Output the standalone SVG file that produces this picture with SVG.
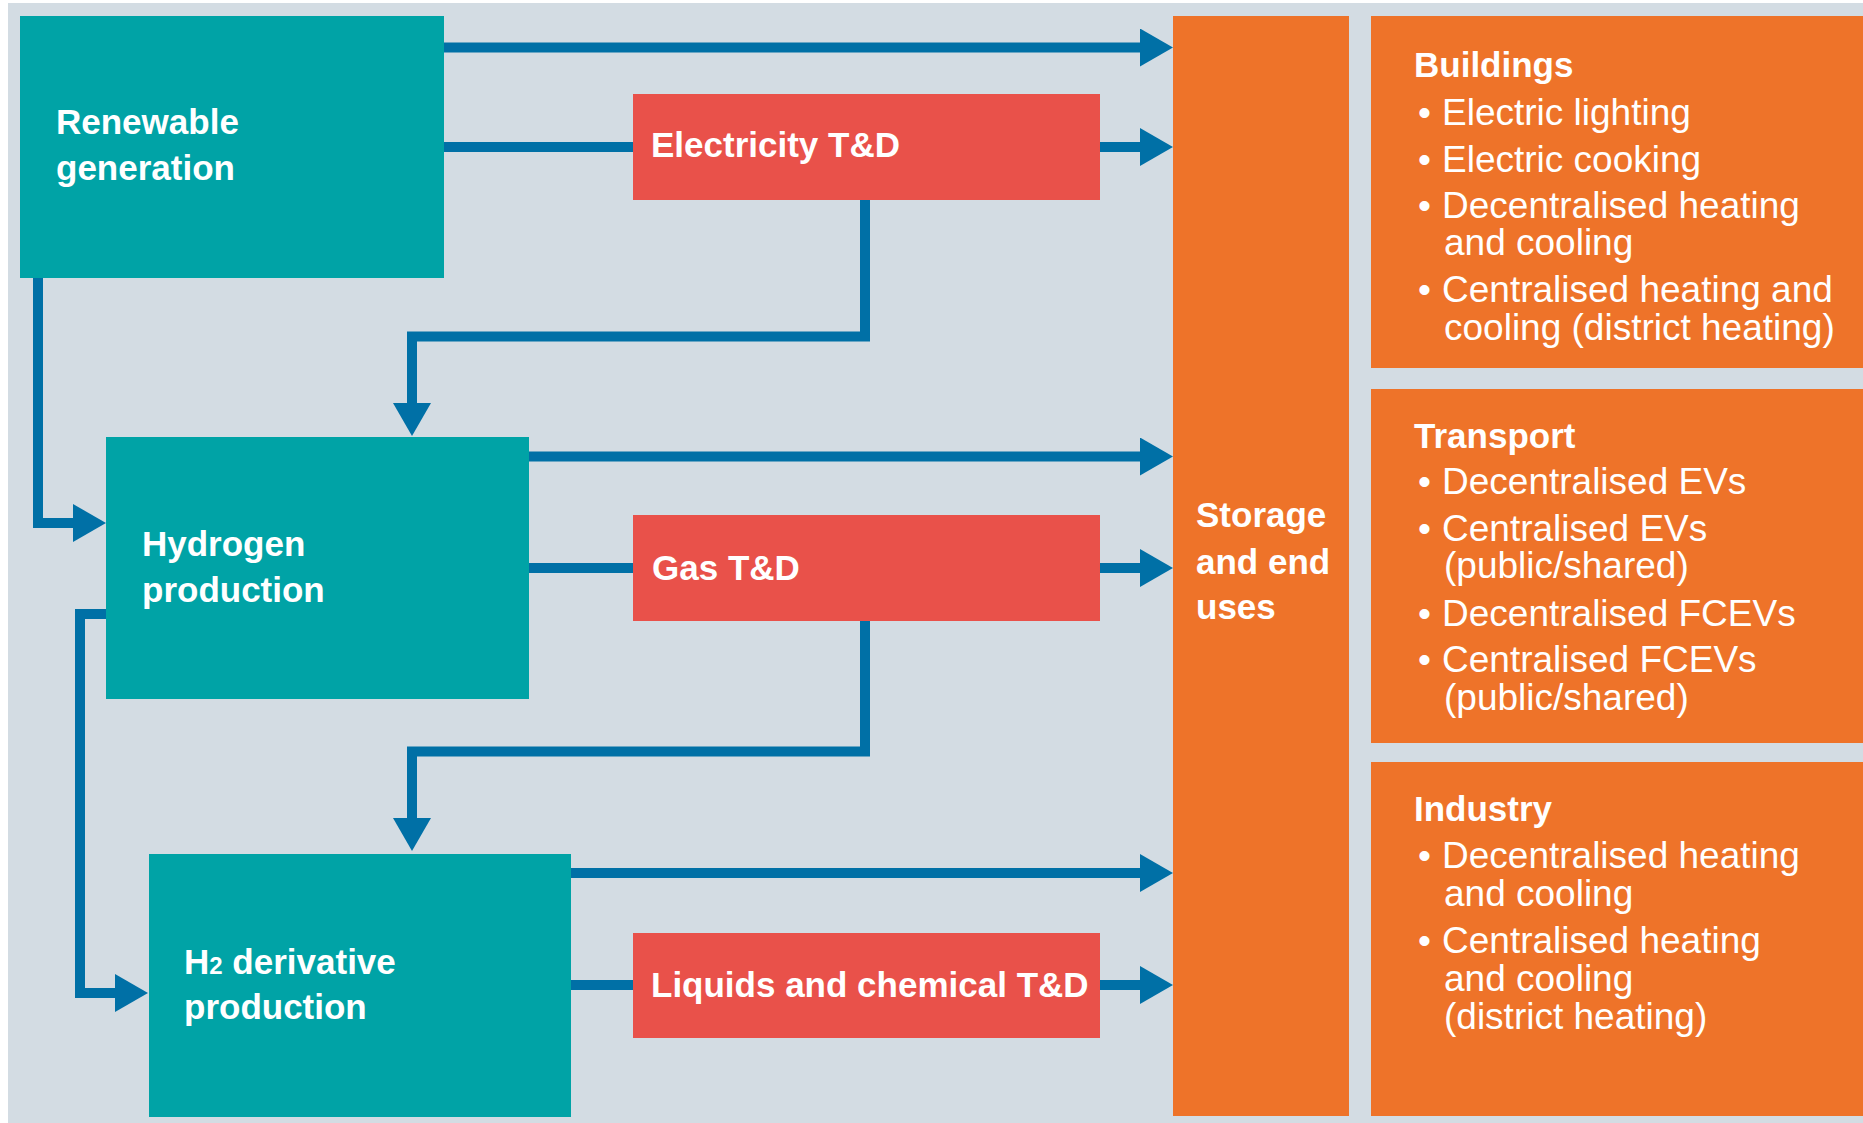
<svg xmlns="http://www.w3.org/2000/svg" width="1863" height="1123" viewBox="0 0 1863 1123">
  <style>
    .teal { fill: #00A3A6; }
    .red { fill: #E9514A; }
    .orange { fill: #EE7329; }
    .title { font-family: "Liberation Sans", Arial, sans-serif; font-weight: bold; font-size: 35px; fill: #FFFFFF; }
    .body { font-family: "Liberation Sans", Arial, sans-serif; font-size: 37px; fill: #FFFFFF; }
    .conn { fill: none; stroke: #0070A6; stroke-width: 10; stroke-linejoin: miter; }
  </style>
  <defs>
    <marker id="arrow" markerUnits="userSpaceOnUse" markerWidth="34" markerHeight="40" refX="0" refY="19" orient="auto">
      <path d="M0,0 L33,19 L0,38 Z" fill="#0070A6"/>
    </marker>
  </defs>
  <rect x="0" y="0" width="1863" height="1123" fill="#FFFFFF"/>
  <rect x="8" y="3" width="1855" height="1120" fill="#D3DCE3"/>

  <g id="connectors">
    <path class="conn" d="M444,47.5 H1140" marker-end="url(#arrow)"/>
    <path class="conn" d="M444,147 H633"/>
    <path class="conn" d="M1100,147 H1140" marker-end="url(#arrow)"/>
    <path class="conn" d="M865,200 V336.5 H412 V403" marker-end="url(#arrow)"/>
    <path class="conn" d="M38,278 V523 H73" marker-end="url(#arrow)"/>
    <path class="conn" d="M529,456.5 H1140" marker-end="url(#arrow)"/>
    <path class="conn" d="M529,568 H633"/>
    <path class="conn" d="M1100,568 H1140" marker-end="url(#arrow)"/>
    <path class="conn" d="M865,621 V751.5 H412 V818" marker-end="url(#arrow)"/>
    <path class="conn" d="M106,614 H80 V993 H115" marker-end="url(#arrow)"/>
    <path class="conn" d="M571,873 H1140" marker-end="url(#arrow)"/>
    <path class="conn" d="M571,985 H633"/>
    <path class="conn" d="M1100,985 H1140" marker-end="url(#arrow)"/>
  </g>

  <g id="renewable">
    <rect class="teal" x="20" y="16" width="424" height="262"/>
    <text class="title" x="56" y="134">Renewable</text>
    <text class="title" x="56" y="180">generation</text>
  </g>

  <g id="hydrogen">
    <rect class="teal" x="106" y="437" width="423" height="262"/>
    <text class="title" x="142" y="556">Hydrogen</text>
    <text class="title" x="142" y="602">production</text>
  </g>

  <g id="h2derivative">
    <rect class="teal" x="149" y="854" width="422" height="263"/>
    <text class="title" x="184" y="974">H<tspan font-size="24">2</tspan> derivative</text>
    <text class="title" x="184" y="1019">production</text>
  </g>

  <g id="electricity">
    <rect class="red" x="633" y="94" width="467" height="106"/>
    <text class="title" x="651" y="157">Electricity T&amp;D</text>
  </g>

  <g id="gas">
    <rect class="red" x="633" y="515" width="467" height="106"/>
    <text class="title" x="652" y="580">Gas T&amp;D</text>
  </g>

  <g id="liquids">
    <rect class="red" x="633" y="933" width="467" height="105"/>
    <text class="title" x="651" y="997">Liquids and chemical T&amp;D</text>
  </g>

  <g id="storage">
    <rect class="orange" x="1173" y="16" width="176" height="1100"/>
    <text class="title" x="1196" y="527">Storage</text>
    <text class="title" x="1196" y="574">and end</text>
    <text class="title" x="1196" y="619">uses</text>
  </g>

  <g id="buildings">
    <rect class="orange" x="1371" y="16" width="492" height="352"/>
    <text class="title" x="1414" y="77">Buildings</text>
    <text class="body" x="1418" y="125">•</text><text class="body" x="1442" y="125">Electric lighting</text>
    <text class="body" x="1418" y="172">•</text><text class="body" x="1442" y="172">Electric cooking</text>
    <text class="body" x="1418" y="218">•</text><text class="body" x="1442" y="218">Decentralised heating</text>
    <text class="body" x="1444" y="255">and cooling</text>
    <text class="body" x="1418" y="302">•</text><text class="body" x="1442" y="302">Centralised heating and</text>
    <text class="body" x="1444" y="340">cooling (district heating)</text>
  </g>

  <g id="transport">
    <rect class="orange" x="1371" y="389" width="492" height="354"/>
    <text class="title" x="1414" y="448">Transport</text>
    <text class="body" x="1418" y="494">•</text><text class="body" x="1442" y="494">Decentralised EVs</text>
    <text class="body" x="1418" y="541">•</text><text class="body" x="1442" y="541">Centralised EVs</text>
    <text class="body" x="1444" y="578">(public/shared)</text>
    <text class="body" x="1418" y="626">•</text><text class="body" x="1442" y="626">Decentralised FCEVs</text>
    <text class="body" x="1418" y="672">•</text><text class="body" x="1442" y="672">Centralised FCEVs</text>
    <text class="body" x="1444" y="710">(public/shared)</text>
  </g>

  <g id="industry">
    <rect class="orange" x="1371" y="762" width="492" height="354"/>
    <text class="title" x="1414" y="821">Industry</text>
    <text class="body" x="1418" y="868">•</text><text class="body" x="1442" y="868">Decentralised heating</text>
    <text class="body" x="1444" y="906">and cooling</text>
    <text class="body" x="1418" y="953">•</text><text class="body" x="1442" y="953">Centralised heating</text>
    <text class="body" x="1444" y="991">and cooling</text>
    <text class="body" x="1444" y="1029">(district heating)</text>
  </g>
</svg>
